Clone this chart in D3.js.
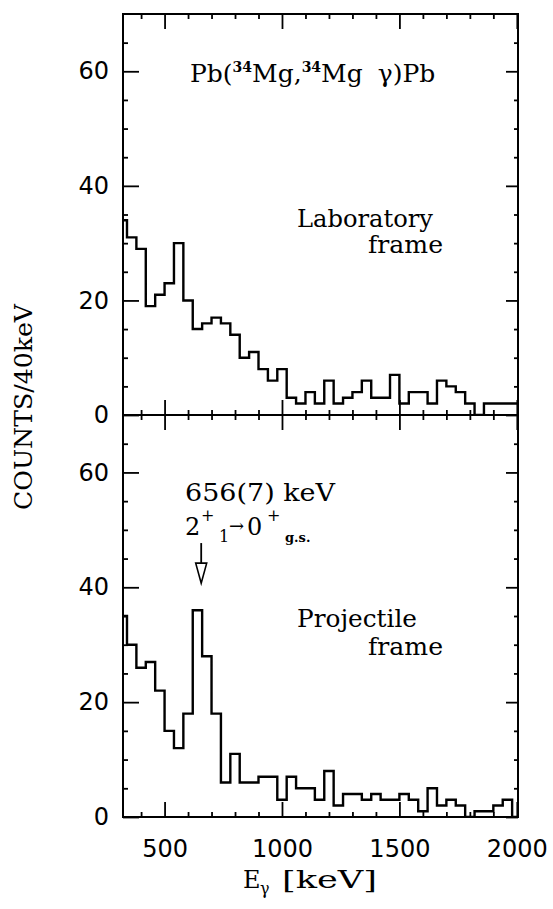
<!DOCTYPE html>
<meta charset="utf-8">
<title>Pb(34Mg,34Mg gamma)Pb spectra</title>
<style>
body { margin: 0; background: #fff; }
.frame { fill: none; stroke: #000; stroke-width: 2; }
.hist { fill: none; stroke: #000; stroke-width: 2.4; }
.axis path { display: none; }
.axis line { stroke: #000; stroke-width: 1.8; }
.axis text { font-family: "DejaVu Sans", sans-serif; font-size: 24px; fill: #000; }
.note { font-family: "DejaVu Serif", serif; font-size: 24px; fill: #000; }
</style>
<body>
<script src="https://d3js.org/d3.v7.min.js"></script>
<script>

// lower edge of each 40 keV bin
var binStart = [300, 340, 380, 420, 460, 500, 540, 580, 620, 660,
                700, 740, 780, 820, 860, 900, 940, 980, 1020, 1060,
                1100, 1140, 1180, 1220, 1260, 1300, 1340, 1380, 1420, 1460,
                1500, 1540, 1580, 1620, 1660, 1700, 1740, 1780, 1820, 1860,
                1900, 1940, 1980];
var binWidth = 40;

// counts per bin, laboratory frame (upper panel)
var labCounts = [34, 31, 29, 19, 21, 23, 30, 20, 15, 16,
                 17, 16, 14, 10, 11, 8, 6, 8, 3, 2,
                 4, 2, 6, 2, 3, 4, 6, 3, 3, 7,
                 2, 4, 4, 2, 6, 5, 4, 2, 0, 2,
                 2, 2, 2];

// counts per bin, projectile frame (lower panel)
var projCounts = [35, 30, 26, 27, 22, 15, 12, 18, 36, 28,
                  18, 6, 11, 6, 6, 7, 7, 3, 7, 5,
                  5, 3, 8, 2, 4, 4, 3, 4, 3, 3,
                  4, 3, 1, 5, 2, 3, 2, 0, 1, 1,
                  2, 3, 0];

var xMajor = [500, 1000, 1500, 2000];
var xMinor = [400, 600, 700, 800, 900, 1100, 1200, 1300, 1400, 1600, 1700, 1800, 1900];
var yMajor = [0, 20, 40, 60];
var yMinor = [5, 10, 15, 25, 30, 35, 45, 50, 55, 65];
var peakEnergy = 656;

var margin = {top: 14, right: 35, bottom: 92, left: 123},
    width = 553 - margin.left - margin.right,
    topH = 401,
    botH = 402;

var svg = d3.select("body").append("svg")
    .attr("width", 553)
    .attr("height", 909);

var x = d3.scaleLinear().domain([323, 2005]).range([0, width]);

function drawPanel(name, counts, y0, h, showX) {
    var y = d3.scaleLinear().domain([0, 70]).range([h, 0]);
    var g = svg.append("g")
        .attr("transform", "translate(" + margin.left + "," + y0 + ")");

    g.append("clipPath").attr("id", "clip-" + name)
      .append("rect").attr("width", width).attr("height", h);

    // histogram as steps
    var pts = binStart.map(function(b, i) { return [b, counts[i]]; });
    pts.push([binStart[binStart.length - 1] + binWidth, counts[counts.length - 1]]);
    g.append("path")
        .datum(pts)
        .attr("class", "hist")
        .attr("clip-path", "url(#clip-" + name + ")")
        .attr("d", d3.line()
            .x(function(d) { return x(d[0]); })
            .y(function(d) { return y(d[1]); })
            .curve(d3.curveStepAfter));

    // left axis, ticks pointing in
    g.append("g").attr("class", "axis")
        .call(d3.axisLeft(y).tickValues(yMajor).tickSize(-16).tickPadding(14).tickFormat(d3.format("d")));
    g.append("g").attr("class", "axis")
        .call(d3.axisLeft(y).tickValues(yMinor).tickSize(-5).tickFormat(""));
    // right axis
    g.append("g").attr("class", "axis").attr("transform", "translate(" + width + ",0)")
        .call(d3.axisRight(y).tickValues(yMajor).tickSize(-12).tickFormat(""));
    g.append("g").attr("class", "axis").attr("transform", "translate(" + width + ",0)")
        .call(d3.axisRight(y).tickValues(yMinor).tickSize(-4).tickFormat(""));

    // top edge ticks pointing down
    g.append("g").attr("class", "axis")
        .call(d3.axisTop(x).tickValues(xMajor).tickSize(-15).tickFormat(""));
    g.append("g").attr("class", "axis")
        .call(d3.axisTop(x).tickValues(xMinor).tickSize(-5).tickFormat(""));

    // bottom edge ticks pointing up
    g.append("g").attr("class", "axis").attr("transform", "translate(0," + h + ")")
        .call(d3.axisBottom(x).tickValues(xMajor).tickSize(-15).tickPadding(23)
        .tickFormat(showX ? d3.format("d") : ""));
    g.append("g").attr("class", "axis").attr("transform", "translate(0," + h + ")")
        .call(d3.axisBottom(x).tickValues(xMinor).tickSize(-5).tickFormat(""));

    g.append("rect").attr("class", "frame").attr("width", width).attr("height", h);
    return {g: g, y: y};
}

var upper = drawPanel("lab", labCounts, margin.top, topH, false);
var lower = drawPanel("proj", projCounts, margin.top + topH, botH, true);

// title of the reaction, superscripts flow inline
var title = svg.append("text").attr("class", "note")
    .attr("x", 190).attr("y", 82).style("font-size", "25px");
title.append("tspan").text("Pb(");
title.append("tspan").attr("dy", -10).style("font-size", "14px").style("font-weight", "bold").text("34");
title.append("tspan").attr("dy", 10).text("Mg,");
title.append("tspan").attr("dy", -10).style("font-size", "14px").style("font-weight", "bold").text("34");
title.append("tspan").attr("dy", 10).text("Mg");
title.append("tspan").attr("dx", 15).text("\u03b3)Pb");

svg.append("text").attr("class", "note").attr("x", 297).attr("y", 227)
    .attr("textLength", 136).attr("lengthAdjust", "spacingAndGlyphs").text("Laboratory");
svg.append("text").attr("class", "note").attr("x", 368).attr("y", 253)
    .attr("textLength", 75).attr("lengthAdjust", "spacingAndGlyphs").text("frame");
svg.append("text").attr("class", "note").attr("x", 297).attr("y", 627)
    .attr("textLength", 120).attr("lengthAdjust", "spacingAndGlyphs").text("Projectile");
svg.append("text").attr("class", "note").attr("x", 368).attr("y", 655)
    .attr("textLength", 75).attr("lengthAdjust", "spacingAndGlyphs").text("frame");

// peak annotation
svg.append("text").attr("class", "note").attr("x", 185).attr("y", 501)
    .attr("textLength", 150).attr("lengthAdjust", "spacingAndGlyphs").text("656(7)  keV");
var tr = svg.append("text").attr("class", "note");
tr.append("tspan").attr("x", 185).attr("y", 535).text("2");
tr.append("tspan").attr("x", 201).attr("y", 521).style("font-size", "16px").text("+");
tr.append("tspan").attr("x", 219).attr("y", 542).style("font-size", "16px").text("1");
tr.append("tspan").attr("x", 229).attr("y", 532).style("font-size", "18px").text("\u2192");
tr.append("tspan").attr("x", 247).attr("y", 535).text("0");
tr.append("tspan").attr("x", 267).attr("y", 521).style("font-size", "16px").text("+");
tr.append("tspan").attr("x", 285).attr("y", 542).style("font-size", "13px").style("font-weight", "bold").text("g.s.");

var ax = margin.left + x(peakEnergy),
    ay = function(v) { return margin.top + topH + lower.y(v); };
svg.append("line")
    .attr("x1", ax).attr("x2", ax)
    .attr("y1", ay(47.7)).attr("y2", ay(44.2))
    .attr("stroke", "#000").attr("stroke-width", 1.8);
svg.append("path")
    .attr("d", "M" + (ax - 5.5) + "," + ay(44.2) + "L" + (ax + 5.5) + "," + ay(44.2) + "L" + ax + "," + ay(40.7) + "Z")
    .attr("fill", "none").attr("stroke", "#000").attr("stroke-width", 1.6);

// axis titles
svg.append("text").attr("class", "note")
    .attr("transform", "translate(32,407) rotate(-90)")
    .attr("text-anchor", "middle")
    .attr("textLength", 206).attr("lengthAdjust", "spacingAndGlyphs")
    .text("COUNTS/40keV");
svg.append("text").attr("class", "note").attr("x", 243).attr("y", 888).text("E");
svg.append("text").attr("class", "note").attr("x", 260).attr("y", 894).style("font-size", "16px").text("\u03b3");
svg.append("text").attr("class", "note").attr("x", 282).attr("y", 888)
    .attr("textLength", 95).attr("lengthAdjust", "spacingAndGlyphs").text("[keV]");

</script>
</body>
